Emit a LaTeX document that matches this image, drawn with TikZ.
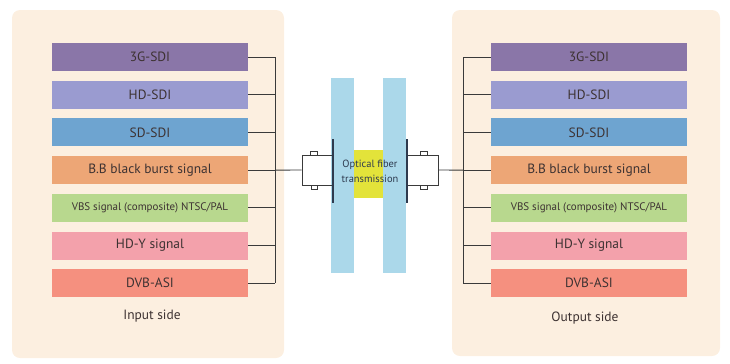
\documentclass[tikz,border=0pt]{standalone}
\usepackage{fontspec}
\setmainfont{PT Sans}
\usetikzlibrary{positioning}
\definecolor{panelbg}{HTML}{FCEFE0}
\definecolor{cthreeg}{HTML}{8A76A8}
\definecolor{chdsdi}{HTML}{9A9BD0}
\definecolor{csdsdi}{HTML}{6EA4D0}
\definecolor{cbb}{HTML}{EDA676}
\definecolor{cvbs}{HTML}{B8D88E}
\definecolor{chdy}{HTML}{F3A1AB}
\definecolor{cdvb}{HTML}{F5907F}
\definecolor{fiberblue}{HTML}{ABD8EA}
\definecolor{fiberyellow}{HTML}{E3E33A}
\definecolor{textgray}{HTML}{3D3232}
\definecolor{wiregray}{HTML}{3A3A3A}
\definecolor{flangeblue}{HTML}{2E3A4E}
\begin{document}
\begin{tikzpicture}[x=1bp,y=-1bp,
  sigbox/.style={minimum width=196bp, minimum height=28bp, inner sep=0pt, text=textgray},
  wire/.style={draw=wiregray, line width=0.9bp},
  sidelabel/.style={font=\fontsize{13.5}{16}\selectfont, text=textgray}]
\useasboundingbox (0,0) rectangle (730,363);

% Side panels
\fill [panelbg, rounded corners=8bp] (12,10) rectangle (284,358);
\fill [panelbg, rounded corners=8bp] (452,10) rectangle (720,356);

% Fibre bars
\fill [fiberblue] (331,78) rectangle (354,273);
\fill [fiberblue] (383,78) rectangle (406,273);
\fill [fiberyellow] (354,150) rectangle (383,198);
\node [font=\fontsize{10.5}{15}\selectfont, text=flangeblue, align=center, inner sep=0pt] (fibertxt) at (370,171) {Optical fiber\\transmission};

% Signal boxes, both sides
\coordinate (lbus) at (275,0);
\coordinate (rbus) at (463,0);
\foreach \i/\lbl/\col/\fs in {1/3G-SDI/cthreeg/13.5, 2/HD-SDI/chdsdi/13.5, 3/SD-SDI/csdsdi/13.5,
    4/{B.B black burst signal}/cbb/13.5, 5/{VBS signal (composite) NTSC/PAL}/cvbs/11,
    6/HD-Y signal/chdy/13.5, 7/DVB-ASI/cdvb/13.5} {
  \node [sigbox, fill=\col, font=\fontsize{\fs}{16}\selectfont] (in\i) at (150,{19.3+37.7*\i}) {\lbl};
  \node [sigbox, fill=\col, font=\fontsize{\fs}{16}\selectfont] (out\i) at (589,{19.3+37.7*\i}) {\lbl};
  \draw [wire] (in\i.east) -- (in\i.east -| lbus);
  \draw [wire] (out\i.west) -- (out\i.west -| rbus);
}
\draw [wire] (in1.east -| lbus) -- (in7.east -| lbus);
\draw [wire] (out1.west -| rbus) -- (out7.west -| rbus);

\node [sidelabel] (inlabel) at (152,316) {Input side};
\node [sidelabel] (outlabel) at (585,318) {Output side};

% Left plug
\node [wire, minimum width=31bp, minimum height=30bp, inner sep=0pt] (lplug) at (317.5,170) {};
\draw [wire] (310,155) rectangle (317,151);
\draw [wire] (311,185) rectangle (317,189);
\draw [draw=flangeblue, line width=1.3bp] (333,139) -- (333,203);
\draw [wire] (in4.east -| lbus) -- (lplug.west);

% Right plug
\node [wire, minimum width=31bp, minimum height=30bp, inner sep=0pt] (rplug) at (422.5,170) {};
\draw [wire] (420,155) rectangle (427,151);
\draw [wire] (420,185) rectangle (427,189);
\draw [draw=flangeblue, line width=1.3bp] (407,139) -- (407,203);
\draw [wire] (rplug.east) -- (out4.west -| rbus);
\end{tikzpicture}
\end{document}
